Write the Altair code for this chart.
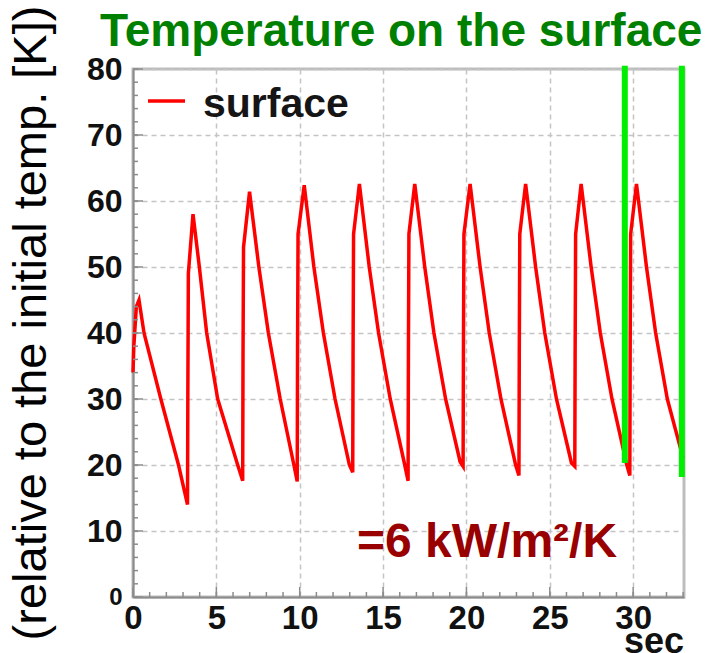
import altair as alt
import pandas as pd

# ---- data ----
time_s = [0.0, 0.05, 0.2, 0.36, 0.66, 1.67, 2.73, 3.27,
          3.29, 3.32, 3.6, 3.98, 4.42, 5.08, 6.28, 6.58,
          6.60, 6.63, 6.99, 7.55, 8.12, 8.83, 9.65, 9.85,
          9.87, 9.90, 10.27, 10.85, 11.42, 12.12, 12.98, 13.18,
          13.20, 13.23, 13.58, 14.17, 14.73, 15.43, 16.30, 16.50,
          16.52, 16.55, 16.90, 17.50, 18.05, 18.75, 19.62, 19.80,
          19.82, 19.85, 20.22, 20.82, 21.37, 22.07, 22.95, 23.15,
          23.17, 23.20, 23.55, 24.15, 24.70, 25.40, 26.30, 26.50,
          26.52, 26.55, 26.88, 27.48, 28.03, 28.73, 29.62, 29.80,
          29.82, 29.85, 30.20, 30.80, 31.35, 32.05, 33.00]
temp_k = [34.0, 38.0, 44.0, 45.0, 40.0, 30.0, 20.0, 14.0,
          31.0, 49.0, 58.0, 50.0, 40.0, 30.0, 20.0, 17.6,
          37.0, 53.0, 61.4, 50.0, 40.0, 30.0, 20.0, 17.5,
          37.0, 55.0, 62.4, 50.0, 40.0, 30.0, 20.0, 18.9,
          37.0, 55.0, 62.6, 50.0, 40.0, 30.0, 20.0, 17.6,
          37.0, 55.0, 62.6, 50.0, 40.0, 30.0, 20.5, 19.8,
          37.0, 55.0, 62.6, 50.0, 40.0, 30.0, 20.0, 18.4,
          37.0, 55.0, 62.6, 50.0, 40.0, 30.0, 20.3, 19.8,
          37.0, 55.0, 62.6, 50.0, 40.0, 30.0, 20.0, 18.4,
          37.0, 55.0, 62.6, 50.0, 40.0, 30.0, 21.0]

x_major = [0, 5, 10, 15, 20, 25, 30]
x_minor = list(range(0, 34))
y_major = [0, 10, 20, 30, 40, 50, 60, 70, 80]
y_minor = list(range(0, 81, 2))

marker_t = [29.5, 32.92]
marker_low = [20.3, 18.2]
marker_high = [80.5, 80.5]

series_name = ["surface"]
title_text = ["Temperature on the surface"]
y_title = ["(relative to the initial temp. [K])"]
x_title = ["sec"]
annot_text = ["=6 kW/m\u00b2/K"]

# ---- chart ----
W, H = 551, 528
FONT = "Liberation Sans"
xs = alt.Scale(domain=[0, 33.05], nice=False, zero=False)
ys = alt.Scale(domain=[0, 80], nice=False)

df = pd.DataFrame({"t": time_s, "T": temp_k, "i": list(range(len(time_s)))})

x_axis = alt.Axis(values=x_major, title=None, grid=True, gridDash=[5, 4],
                  gridColor="#c4c4c4", gridWidth=1.5, ticks=False,
                  domain=True, domainColor="#8c8c8c", domainWidth=2,
                  labelFont=FONT, labelFontSize=33, labelFontWeight="bold",
                  labelColor="#111111", labelPadding=5, labelFlush=False)
y_axis = alt.Axis(values=y_major, title=None, grid=True, gridDash=[5, 4],
                  gridColor="#c4c4c4", gridWidth=1.5, ticks=False,
                  domain=True, domainColor="#8c8c8c", domainWidth=2,
                  labelFont=FONT,
                  labelFontSize={"condition": {"test": "datum.value == 0", "value": 24}, "value": 32},
                  labelFontWeight="bold", labelColor="#111111", labelPadding=11,
                  labelFlush=False)

line = alt.Chart(df).mark_line(color="#ff0000", strokeWidth=3.5).encode(
    x=alt.X("t:Q", scale=xs, axis=x_axis),
    y=alt.Y("T:Q", scale=ys, axis=y_axis),
    order="i:Q",
)

def tick_layer(values, major, axis):
    d = pd.DataFrame({"v": values})
    ln = 10 if major else 5
    if axis == "x":
        return alt.Chart(d).mark_rule(color="#8c8c8c", strokeWidth=1.5).encode(
            x=alt.X("v:Q", scale=xs), y=alt.value(H), y2=alt.value(H - ln))
    return alt.Chart(d).mark_rule(color="#8c8c8c", strokeWidth=1.5).encode(
        y=alt.Y("v:Q", scale=ys), x=alt.value(0), x2=alt.value(ln))

ticks = [tick_layer(x_minor, False, "x"), tick_layer(x_major, True, "x"),
         tick_layer(y_minor, False, "y"), tick_layer(y_major, True, "y")]

mk = pd.DataFrame({"t": marker_t, "lo": marker_low, "hi": marker_high})
markers = alt.Chart(mk).mark_rule(color="#00ee00", strokeWidth=6).encode(
    x=alt.X("t:Q", scale=xs), y=alt.Y("lo:Q", scale=ys), y2="hi:Q")

def label(txt, **kw):
    enc = {k: kw.pop(k) for k in ["x", "y"]}
    return alt.Chart(pd.DataFrame({"s": txt})).mark_text(font=FONT, **kw).encode(
        text="s:N", **enc)

title = label(title_text, x=alt.value(-33), y=alt.value(-23), align="left",
              baseline="alphabetic", fontSize=46, fontWeight="bold", color="#008000")
ytitle = label(y_title, x=alt.value(-87), y=alt.value(254), align="center",
               baseline="alphabetic", angle=270, fontSize=47, color="#000000")
xtitle = label(x_title, x=alt.value(W), y=alt.value(584), align="right",
               baseline="alphabetic", fontSize=36, fontWeight="bold", color="#111111")
annot = label(annot_text, x=alt.value(224), y=alt.value(488), align="left",
              baseline="alphabetic", fontSize=48, fontWeight="bold", color="#990000")

leg_line = alt.Chart(pd.DataFrame({"s": series_name})).mark_rule(
    color="#ff0000", strokeWidth=3.5).encode(
    x=alt.value(15), x2=alt.value(52), y=alt.value(32))
leg_text = label(series_name, x=alt.value(70), y=alt.value(48), align="left",
                 baseline="alphabetic", fontSize=41, fontWeight="bold", color="#151515")

chart = alt.layer(line, *ticks, markers, title, ytitle, xtitle, annot,
                  leg_line, leg_text).properties(
    width=W, height=H,
    padding={"left": 125, "top": 61, "right": 28, "bottom": 56},
    autosize=alt.AutoSizeParams(type="none"),
).configure_view(stroke="#bdbdbd", strokeWidth=3)

chart.save("out.html", embed_options={"renderer": "svg", "actions": False})
